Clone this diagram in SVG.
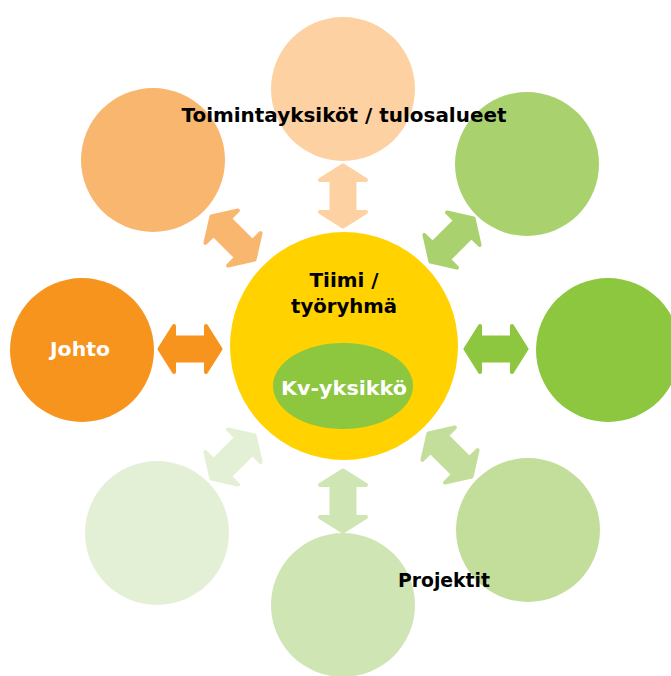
<svg xmlns="http://www.w3.org/2000/svg" width="671" height="676" viewBox="0 0 671 676">
<defs>
<style>
.lbl{font-family:"DejaVu Sans","Liberation Sans",Arial,sans-serif;font-weight:bold;font-size:19px;text-anchor:middle}
.dark{fill:#000}
.light{fill:#fff}
.arr{stroke-linejoin:round;stroke-width:4}
</style>
<path id="arrow" d="M -30.5 0 L -16 -23 L -16 -11.5 L 16 -11.5 L 16 -23 L 30.5 0 L 16 23 L 16 11.5 L -16 11.5 L -16 23 Z"/>
</defs>
<rect width="671" height="676" fill="#fff"/>
<g id="node-topleft"><circle cx="153" cy="160" r="72" fill="#F9B66E"/></g>
<g id="node-topright"><circle cx="527" cy="164" r="72" fill="#A9D26E"/></g>
<g id="node-right"><circle cx="608" cy="350" r="72" fill="#8DC63F"/></g>
<g id="node-bottomright"><circle cx="528" cy="530" r="72" fill="#C3DE9A"/></g>
<g id="node-bottomleft"><circle cx="157" cy="533" r="72" fill="#E3F0D6"/></g>
<g id="node-left"><circle cx="82" cy="350" r="72" fill="#F7941E"/>
<text class="lbl light" x="80" y="356" textLength="60" lengthAdjust="spacingAndGlyphs">Johto</text></g>
<g id="node-top"><circle cx="343" cy="89" r="72" fill="#FDD1A2"/>
<text class="lbl dark" x="344" y="122" textLength="325" lengthAdjust="spacingAndGlyphs">Toimintayksiköt / tulosalueet</text></g>
<g id="node-bottom"><circle cx="343" cy="605" r="72" fill="#CFE5B3"/>
<text class="lbl dark" x="444" y="587" textLength="92" lengthAdjust="spacingAndGlyphs">Projektit</text></g>
<g id="node-center"><circle cx="344" cy="346" r="114" fill="#FFD200"/>
<text class="lbl dark" x="344" y="287" textLength="69" lengthAdjust="spacingAndGlyphs">Tiimi /</text>
<text class="lbl dark" x="344" y="313" textLength="106" lengthAdjust="spacingAndGlyphs">työryhmä</text>
<ellipse cx="343" cy="386" rx="70" ry="43" fill="#8DC63F"/>
<text class="lbl light" x="344" y="395" font-size="20" textLength="126" lengthAdjust="spacingAndGlyphs">Kv-yksikkö</text></g>
<g id="connectors">
<use href="#arrow" class="arr" transform="translate(190 349)" fill="#F7941E" stroke="#F7941E"/>
<use href="#arrow" class="arr" transform="translate(496 349)" fill="#8DC63F" stroke="#8DC63F"/>
<use href="#arrow" class="arr" transform="translate(343 196) rotate(90)" fill="#FDD1A2" stroke="#FDD1A2"/>
<use href="#arrow" class="arr" transform="translate(343 501) rotate(90)" fill="#CFE5B3" stroke="#CFE5B3"/>
<use href="#arrow" class="arr" transform="translate(233 238) rotate(45)" fill="#F9B66E" stroke="#F9B66E"/>
<use href="#arrow" class="arr" transform="translate(452 240) rotate(-45)" fill="#A9D26E" stroke="#A9D26E"/>
<use href="#arrow" class="arr" transform="translate(233 457) rotate(-45)" fill="#E3F0D6" stroke="#E3F0D6"/>
<use href="#arrow" class="arr" transform="translate(450 455) rotate(45)" fill="#C3DE9A" stroke="#C3DE9A"/>
</g>
</svg>
